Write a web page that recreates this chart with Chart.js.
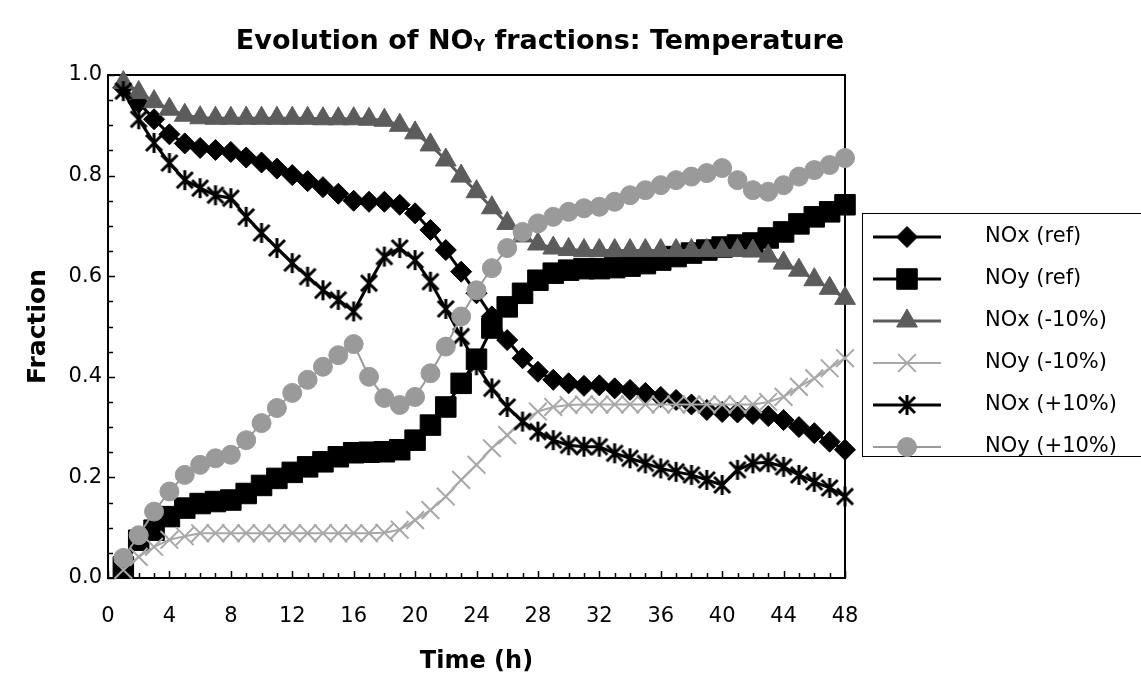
<!DOCTYPE html>
<html>
<head>
<meta charset="utf-8">
<script src="https://cdn.jsdelivr.net/npm/chart.js@4.4.1/dist/chart.umd.min.js"></script>
<style>
  html, body { margin: 0; padding: 0; background: #fff; }
  #wrap { width: 1141px; height: 681px; position: relative; }
</style>
</head>
<body>
<div id="wrap"><canvas id="c" width="1141" height="681"></canvas></div>
<script>
// Hourly model output, t = 1 .. 48 h
const hours = [1,2,3,4,5,6,7,8,9,10,11,12,13,14,15,16,17,18,19,20,21,22,23,24,
               25,26,27,28,29,30,31,32,33,34,35,36,37,38,39,40,41,42,43,44,45,46,47,48];

const noxRef = [0.975,0.945,0.912,0.882,0.864,0.855,0.851,0.847,0.836,0.826,0.814,0.801,
                0.789,0.777,0.764,0.750,0.748,0.748,0.742,0.725,0.692,0.652,0.609,0.566,
                0.520,0.473,0.437,0.410,0.394,0.387,0.382,0.383,0.377,0.374,0.368,0.360,
                0.354,0.345,0.334,0.330,0.329,0.326,0.322,0.314,0.300,0.288,0.271,0.255];

const noyRef = [0.022,0.075,0.095,0.122,0.139,0.148,0.152,0.155,0.168,0.184,0.198,0.210,
                0.221,0.231,0.241,0.249,0.250,0.251,0.255,0.274,0.304,0.340,0.387,0.435,
                0.497,0.539,0.566,0.592,0.606,0.612,0.615,0.615,0.617,0.620,0.625,0.632,
                0.639,0.646,0.652,0.658,0.662,0.666,0.676,0.688,0.704,0.718,0.728,0.742];

const noxMinus10 = [0.985,0.965,0.947,0.932,0.920,0.915,0.914,0.914,0.914,0.914,0.914,0.914,
                    0.914,0.913,0.913,0.913,0.912,0.910,0.900,0.885,0.861,0.831,0.799,0.768,
                    0.736,0.705,0.680,0.664,0.656,0.653,0.651,0.651,0.651,0.651,0.651,0.651,
                    0.651,0.651,0.651,0.651,0.651,0.650,0.640,0.626,0.612,0.593,0.576,0.556];

const noyMinus10 = [0.016,0.042,0.062,0.076,0.083,0.089,0.089,0.089,0.089,0.089,0.089,0.089,
                    0.089,0.089,0.089,0.089,0.089,0.090,0.096,0.115,0.135,0.162,0.195,0.225,
                    0.258,0.284,0.311,0.331,0.340,0.344,0.345,0.345,0.345,0.345,0.345,0.345,
                    0.345,0.345,0.345,0.345,0.345,0.345,0.350,0.360,0.380,0.397,0.417,0.437];

const noxPlus10 = [0.968,0.912,0.865,0.825,0.791,0.775,0.761,0.755,0.718,0.686,0.656,0.626,
                   0.599,0.572,0.553,0.530,0.586,0.639,0.656,0.632,0.589,0.535,0.480,0.423,
                   0.377,0.340,0.311,0.291,0.274,0.264,0.261,0.261,0.248,0.238,0.228,0.218,
                   0.211,0.205,0.195,0.185,0.215,0.228,0.230,0.221,0.205,0.191,0.179,0.162];

const noyPlus10 = [0.040,0.085,0.132,0.172,0.205,0.225,0.238,0.245,0.274,0.308,0.338,0.368,
                   0.394,0.420,0.443,0.465,0.400,0.358,0.344,0.360,0.407,0.460,0.520,0.572,
                   0.616,0.656,0.688,0.705,0.718,0.728,0.735,0.738,0.748,0.761,0.771,0.781,
                   0.791,0.798,0.805,0.815,0.791,0.771,0.768,0.781,0.798,0.811,0.821,0.835];

const seriesNames = ['NOx (ref)', 'NOy (ref)', 'NOx (-10%)', 'NOy (-10%)', 'NOx (+10%)', 'NOy (+10%)'];
const seriesValues = [noxRef, noyRef, noxMinus10, noyMinus10, noxPlus10, noyPlus10];

// Axis ticks
const xTickStep = 4;
const yTickStep = 0.2;

const FONT = '"DejaVu Sans", "Liberation Sans", Arial, sans-serif';
Chart.defaults.font.family = FONT;
Chart.defaults.color = '#000';

// Asterisk marker: an X crossed by a vertical bar
function makeAsterisk(size, color, lw) {
  const c = document.createElement('canvas');
  c.width = size; c.height = size;
  const g = c.getContext('2d');
  g.strokeStyle = color; g.lineWidth = lw;
  const m = size / 2, r = size / 2 - 1, d = r * 0.8;
  g.beginPath();
  g.moveTo(m, m - r); g.lineTo(m, m + r);
  g.moveTo(m - d, m - d); g.lineTo(m + d, m + d);
  g.moveTo(m + d, m - d); g.lineTo(m - d, m + d);
  g.stroke();
  return c;
}
const asterisk = makeAsterisk(22, '#000', 3);

const styles = [
  { color: '#000000', width: 3, point: 'rectRot',  radius: 10.5, fill: '#000000', pbw: 1 },
  { color: '#000000', width: 3, point: 'rect',     radius: 14.5, fill: '#000000', pbw: 1 },
  { color: '#5c5c5c', width: 3, point: 'triangle', radius: 12,   fill: '#5c5c5c', pbw: 1 },
  { color: '#a8a8a8', width: 2, point: 'crossRot', radius: 12.5, fill: '#a8a8a8', pbw: 2 },
  { color: '#000000', width: 3, point: asterisk,   radius: 11,   fill: '#000000', pbw: 1 },
  { color: '#9a9a9a', width: 2, point: 'circle',   radius: 9.5,  fill: '#9a9a9a', pbw: 1 }
];

const datasets = seriesValues.map((vals, i) => ({
  label: seriesNames[i],
  data: hours.map((h, k) => ({ x: h, y: vals[k] })),
  borderColor: styles[i].color,
  borderWidth: styles[i].width,
  backgroundColor: styles[i].fill,
  pointStyle: styles[i].point,
  pointRadius: styles[i].radius,
  pointBackgroundColor: styles[i].fill,
  pointBorderColor: styles[i].color,
  pointBorderWidth: styles[i].pbw,
  tension: 0,
  fill: false,
  clip: false,
  order: seriesNames.length - i
}));

// Plot frame and inward minor ticks
const framePlugin = {
  id: 'frame',
  beforeDatasetsDraw(chart) {
    const { ctx, chartArea: a, scales: { x, y } } = chart;
    ctx.save();
    ctx.strokeStyle = '#000';
    ctx.lineWidth = 1.5;
    for (let t = 0; t <= 48; t++) {
      const px = Math.round(x.getPixelForValue(t)) + 0.5;
      const len = t % 4 === 0 ? 7 : 5;
      ctx.beginPath(); ctx.moveTo(px, a.bottom); ctx.lineTo(px, a.bottom - len); ctx.stroke();
    }
    for (let k = 0; k <= 20; k++) {
      const py = Math.round(y.getPixelForValue(k * 0.05)) + 0.5;
      const len = k % 4 === 0 ? 7 : 5;
      ctx.beginPath(); ctx.moveTo(a.left, py); ctx.lineTo(a.left + len, py); ctx.stroke();
    }
    ctx.lineWidth = 2;
    ctx.strokeRect(a.left, a.top, a.right - a.left, a.bottom - a.top);
    ctx.restore();
  }
};

// Title with the small-capital Y of NOy
const titlePlugin = {
  id: 'mainTitle',
  afterDraw(chart) {
    const ctx = chart.ctx;
    const big = 'bold 27px ' + FONT;
    const small = 'bold 16px ' + FONT;
    const parts = [
      { t: 'Evolution of NO', f: big, dy: 0 },
      { t: 'Y', f: small, dy: 2 },
      { t: ' fractions: Temperature', f: big, dy: 0 }
    ];
    ctx.save();
    ctx.fillStyle = '#000';
    ctx.textBaseline = 'alphabetic';
    let total = 0;
    parts.forEach(p => { ctx.font = p.f; p.w = ctx.measureText(p.t).width; total += p.w; });
    let x = 540 - total / 2;
    const base = 49;
    parts.forEach(p => { ctx.font = p.f; ctx.fillText(p.t, x, base + p.dy); x += p.w; });
    ctx.restore();
  }
};

// Boxed legend to the right of the plot
const legendPlugin = {
  id: 'boxLegend',
  afterDraw(chart) {
    const ctx = chart.ctx;
    const left = 862, top = 213, bottom = 456;
    const rowY0 = 237, rowStep = 42;
    ctx.save();
    ctx.strokeStyle = '#000';
    ctx.lineWidth = 1;
    ctx.strokeRect(left + 0.5, top + 0.5, 1141 - left + 10, bottom - top);
    chart.data.datasets.forEach((ds, i) => {
      const yy = rowY0 + i * rowStep;
      ctx.strokeStyle = ds.borderColor;
      ctx.lineWidth = ds.borderWidth;
      ctx.beginPath(); ctx.moveTo(873, yy); ctx.lineTo(941, yy); ctx.stroke();
      ctx.fillStyle = ds.pointBackgroundColor;
      ctx.strokeStyle = ds.pointBorderColor;
      ctx.lineWidth = ds.pointBorderWidth;
      Chart.helpers.drawPoint(ctx, {
        pointStyle: ds.pointStyle, radius: ds.pointRadius, rotation: 0,
        borderWidth: ds.pointBorderWidth
      }, 907, yy);
      ctx.fillStyle = '#000';
      ctx.font = '21px ' + FONT;
      ctx.textBaseline = 'middle';
      ctx.textAlign = 'left';
      ctx.fillText(ds.label, 985, yy);
    });
    ctx.restore();
  }
};

new Chart(document.getElementById('c'), {
  type: 'line',
  data: { datasets },
  options: {
    responsive: false,
    animation: false,
    devicePixelRatio: 1,
    events: [],
    layout: { padding: { top: 75, right: 296, left: 0, bottom: 0 } },
    plugins: { legend: { display: false }, tooltip: { enabled: false }, title: { display: false } },
    scales: {
      x: {
        type: 'linear', min: 0, max: 48,
        grid: { display: false, drawTicks: false },
        border: { display: false },
        ticks: { stepSize: xTickStep, padding: 26, maxRotation: 0, autoSkip: false,
                 font: { size: 21 }, color: '#000' },
        title: { display: true, text: 'Time (h)', font: { size: 24, weight: 'bold' },
                 color: '#000', padding: { top: 0, bottom: 5 } },
        afterFit(s) { s.height = 103; }
      },
      y: {
        min: 0, max: 1,
        grid: { display: false, drawTicks: false },
        border: { display: false },
        ticks: { stepSize: yTickStep, padding: 6, font: { size: 21 }, color: '#000',
                 callback: v => Number(v).toFixed(1) },
        title: { display: true, text: 'Fraction', font: { size: 25, weight: 'bold' },
                 color: '#000', padding: { top: 23, bottom: 0 } },
        afterFit(s) { s.width = 108; }
      }
    }
  },
  plugins: [framePlugin, titlePlugin, legendPlugin]
});
</script>
</body>
</html>
